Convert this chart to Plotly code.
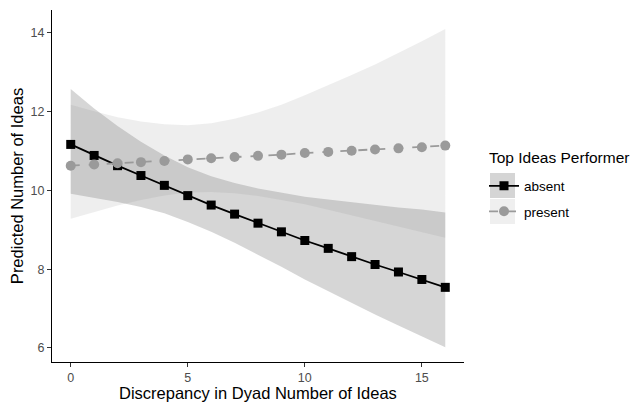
import plotly.graph_objects as go

x_vals = list(range(17))

absent_fit = [11.17, 10.89, 10.63, 10.38, 10.13, 9.87, 9.63, 9.40, 9.17, 8.95,
              8.73, 8.53, 8.32, 8.12, 7.93, 7.74, 7.54]
absent_upper = [12.58, 12.08, 11.64, 11.24, 10.89, 10.59, 10.36, 10.19, 10.05, 9.94,
                9.84, 9.77, 9.70, 9.63, 9.57, 9.52, 9.44]
absent_lower = [9.92, 9.81, 9.71, 9.58, 9.42, 9.20, 8.95, 8.67, 8.37, 8.06,
                7.74, 7.44, 7.14, 6.85, 6.57, 6.30, 6.02]

present_fit = [10.63, 10.66, 10.69, 10.72, 10.75, 10.79, 10.82, 10.85, 10.88, 10.91,
               10.95, 10.98, 11.01, 11.04, 11.07, 11.10, 11.14]
present_upper = [12.18, 12.01, 11.86, 11.75, 11.68, 11.66, 11.71, 11.82, 11.98, 12.18,
                 12.42, 12.67, 12.93, 13.20, 13.49, 13.79, 14.10]
present_lower = [9.28, 9.45, 9.62, 9.76, 9.87, 9.95, 9.96, 9.93, 9.86, 9.76,
                 9.65, 9.51, 9.37, 9.23, 9.08, 8.94, 8.80]

x_ticks = [0, 5, 10, 15]
y_ticks = [6, 8, 10, 12, 14]

FONT = "Liberation Sans, Arial, sans-serif"
ABSENT_FILL = "rgba(51,51,51,0.2)"
PRESENT_FILL = "rgba(120,120,120,0.13)"

fig = go.Figure()

# ribbons
fig.add_trace(go.Scatter(x=x_vals, y=absent_upper, mode="lines", line=dict(width=0),
                         showlegend=False, hoverinfo="skip"))
fig.add_trace(go.Scatter(x=x_vals, y=absent_lower, mode="lines", line=dict(width=0),
                         fill="tonexty", fillcolor=ABSENT_FILL,
                         showlegend=False, hoverinfo="skip"))
fig.add_trace(go.Scatter(x=x_vals, y=present_upper, mode="lines", line=dict(width=0),
                         showlegend=False, hoverinfo="skip"))
fig.add_trace(go.Scatter(x=x_vals, y=present_lower, mode="lines", line=dict(width=0),
                         fill="tonexty", fillcolor=PRESENT_FILL,
                         showlegend=False, hoverinfo="skip"))

# lines
fig.add_trace(go.Scatter(x=x_vals, y=absent_fit, mode="lines+markers", name="absent",
                         legendgroup="a",
                         line=dict(color="black", width=1.8),
                         marker=dict(symbol="square", size=9, color="black")))
fig.add_trace(go.Scatter(x=x_vals, y=present_fit, mode="lines+markers", name="present",
                         legendgroup="p",
                         line=dict(color="#9a9a9a", width=1.8, dash="dash"),
                         marker=dict(symbol="circle", size=10, color="#9a9a9a")))

# paper coordinates from reference pixel positions (plot area 52..464 x 10..362)
def px_x(p):
    return (p - 52) / 412.0

def px_y(p):
    return (362 - p) / 352.0

# legend key backgrounds (ggplot style)
fig.add_shape(type="rect", xref="paper", yref="paper",
              x0=px_x(490), x1=px_x(515), y0=px_y(198), y1=px_y(173),
              fillcolor="#d5d5d5", line=dict(width=0), layer="below")
fig.add_shape(type="rect", xref="paper", yref="paper",
              x0=px_x(490), x1=px_x(515), y0=px_y(224), y1=px_y(199),
              fillcolor="#efefef", line=dict(width=0), layer="below")

fig.add_annotation(text="Top Ideas Performer", xref="paper", yref="paper",
                   x=px_x(487), y=px_y(157), xanchor="left", yanchor="middle",
                   showarrow=False, font=dict(size=15.5, color="black"))

fig.add_annotation(text="Discrepancy in Dyad Number of Ideas", xref="paper", yref="paper",
                   x=px_x(257.5), y=px_y(393), xanchor="center", yanchor="middle",
                   showarrow=False, font=dict(size=16.5, color="black"))

# page has an 8px body margin: figure is 633x394 drawn at offset (8, 8)
fig.update_layout(
    width=633, height=394,
    margin=dict(l=44, r=177, t=2, b=40),
    paper_bgcolor="white", plot_bgcolor="white",
    font=dict(family=FONT, color="black"),
    legend=dict(
        font=dict(size=13.5, color="black"),
        x=px_x(484), xanchor="left", y=px_y(170.5), yanchor="top",
        bgcolor="rgba(0,0,0,0)", traceorder="grouped", tracegroupgap=5, itemwidth=30,
    ),
    xaxis=dict(
        range=[-0.8, 16.8], tickvals=x_ticks, ticktext=[str(v) for v in x_ticks],
        showgrid=False, zeroline=False, showline=True, linecolor="black", linewidth=1.2,
        ticks="outside", ticklen=4, tickcolor="#333333", tickwidth=1.1,
        tickfont=dict(size=12.5, color="#4d4d4d"), automargin=False,
    ),
    yaxis=dict(
        range=[5.644, 14.584], tickvals=y_ticks, ticktext=[str(v) for v in y_ticks],
        showgrid=False, zeroline=False, showline=True, linecolor="black", linewidth=1.2,
        ticks="outside", ticklen=4, tickcolor="#333333", tickwidth=1.1,
        tickfont=dict(size=12.5, color="#4d4d4d"), automargin=False,
        title=dict(text="Predicted Number of Ideas", font=dict(size=16.5), standoff=6),
    ),
)

fig.write_html("out.html")
